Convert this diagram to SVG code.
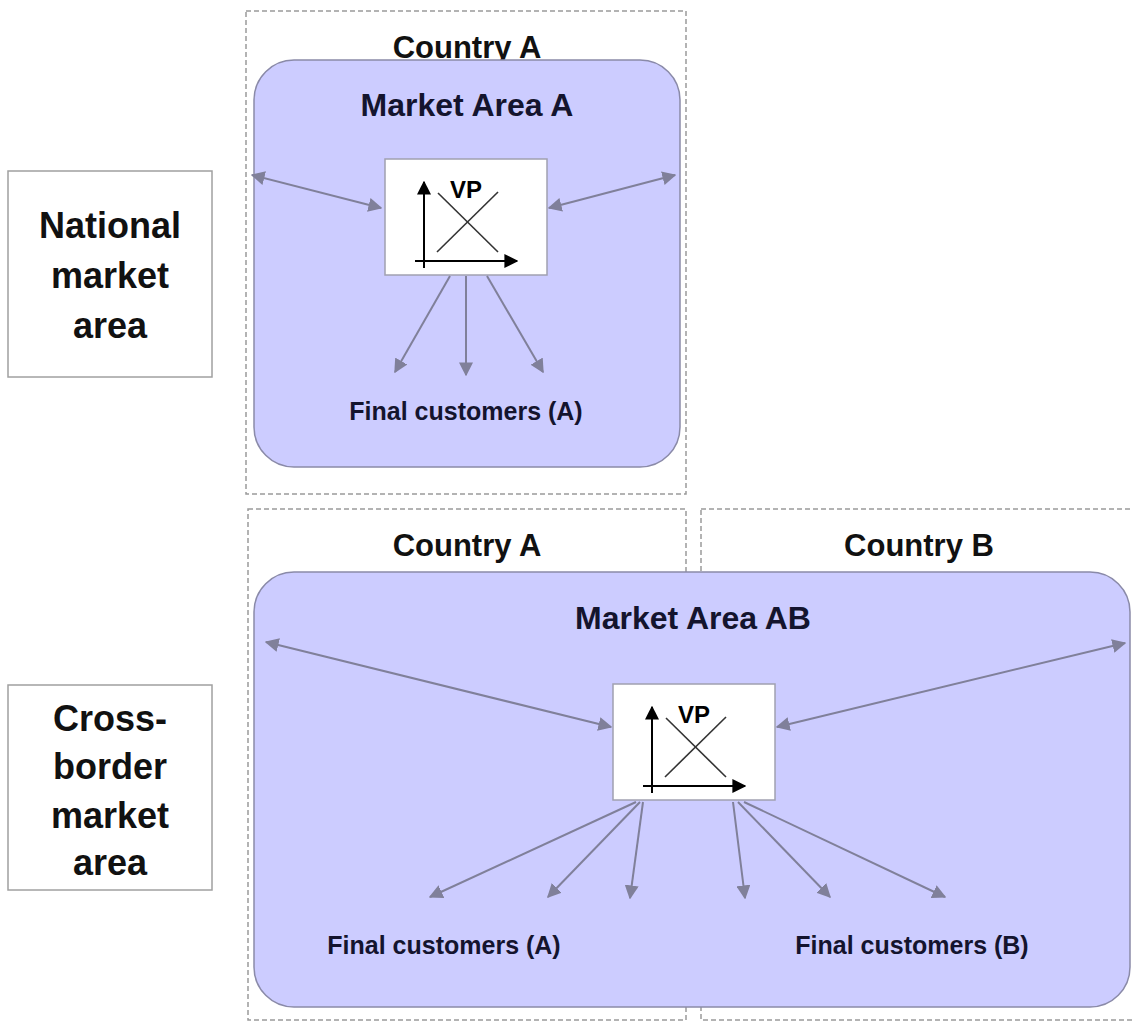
<svg xmlns="http://www.w3.org/2000/svg" width="1132" height="1021" viewBox="0 0 1132 1021">
<style>
.dash{fill:none;stroke:#9a9a9a;stroke-width:1.5;stroke-dasharray:5 3}
.area{fill:#ccccff;stroke:#8a8aa8;stroke-width:1.5}
.lbl{fill:#fff;stroke:#a0a0a0;stroke-width:1.5}
.vp{fill:#fff;stroke:#a0a0b0;stroke-width:1.5}
.t{font-family:"Liberation Sans",Arial,sans-serif;font-weight:bold;text-anchor:middle}
.big{font-size:36px;fill:#111}
.ctry{font-size:31px;fill:#111}
.ma{font-size:32px;fill:#14142e}
.fc{font-size:25px;fill:#14142e}
.conn{stroke:#80809a;stroke-width:2;fill:none}
.ax{stroke:#000;stroke-width:2;fill:none}
.xl{stroke:#333;stroke-width:1.6}
</style>
<defs>
<marker id="ah" viewBox="0 0 10 10" refX="9" refY="5" markerWidth="7" markerHeight="7" orient="auto-start-reverse" markerUnits="strokeWidth">
<path d="M0,0 L10,5 L0,10 z" fill="#80809a"/>
</marker>
<marker id="bk" viewBox="0 0 10 10" refX="9" refY="5" markerWidth="7" markerHeight="7" orient="auto-start-reverse" markerUnits="strokeWidth">
<path d="M0,0 L10,5 L0,10 z" fill="#000"/>
</marker>
<g id="vpchart">
<rect class="vp" x="385" y="159" width="162" height="116"/>
<line class="ax" x1="424" y1="268" x2="424" y2="182" marker-end="url(#bk)"/>
<line class="ax" x1="415" y1="261" x2="517" y2="261" marker-end="url(#bk)"/>
<line class="xl" x1="438" y1="193" x2="498" y2="252"/>
<line class="xl" x1="437" y1="252" x2="498" y2="192"/>
<text class="t" x="466" y="198" font-size="24" fill="#000">VP</text>
</g>
</defs>

<g id="label-national">
<rect class="lbl" x="8" y="171" width="204" height="206"/>
<text class="t big" x="110" y="238">National</text>
<text class="t big" x="110" y="288">market</text>
<text class="t big" x="110" y="338">area</text>
</g>

<g id="label-crossborder">
<rect class="lbl" x="8" y="685" width="204" height="205"/>
<text class="t big" x="110" y="731">Cross-</text>
<text class="t big" x="110" y="779">border</text>
<text class="t big" x="110" y="828">market</text>
<text class="t big" x="110" y="875">area</text>
</g>

<g id="country-a-top">
<rect class="dash" x="246" y="11" width="440" height="483"/>
<text class="t ctry" x="467" y="58">Country A</text>
</g>

<g id="market-area-a">
<rect class="area" x="254" y="60" width="426" height="407" rx="40" ry="40"/>
<text class="t ma" x="467" y="116">Market Area A</text>
<text class="t fc" x="466" y="420">Final customers (A)</text>
</g>

<g id="vp-a">
<use href="#vpchart"/>
</g>

<g id="country-a-bottom">
<rect class="dash" x="248" y="509" width="438" height="511"/>
<text class="t ctry" x="467" y="556">Country A</text>
</g>

<g id="country-b">
<rect class="dash" x="701" y="509" width="440" height="511"/>
<text class="t ctry" x="919" y="556">Country B</text>
</g>

<g id="market-area-ab">
<rect class="area" x="254" y="572" width="876" height="435" rx="40" ry="40"/>
<text class="t ma" x="693" y="629">Market Area AB</text>
<text class="t fc" x="444" y="954">Final customers (A)</text>
<text class="t fc" x="912" y="954">Final customers (B)</text>
</g>

<g id="vp-ab">
<use href="#vpchart" transform="translate(228,525)"/>
</g>

<g id="connectors">
<line class="conn" x1="252" y1="175" x2="381" y2="208" marker-start="url(#ah)" marker-end="url(#ah)"/>
<line class="conn" x1="549" y1="208" x2="675" y2="175" marker-start="url(#ah)" marker-end="url(#ah)"/>
<line class="conn" x1="450" y1="276" x2="395" y2="372" marker-end="url(#ah)"/>
<line class="conn" x1="466" y1="276" x2="466" y2="375" marker-end="url(#ah)"/>
<line class="conn" x1="487" y1="276" x2="543" y2="372" marker-end="url(#ah)"/>

<line class="conn" x1="266" y1="642" x2="611" y2="727" marker-start="url(#ah)" marker-end="url(#ah)"/>
<line class="conn" x1="777" y1="727" x2="1125" y2="643" marker-start="url(#ah)" marker-end="url(#ah)"/>
<line class="conn" x1="636" y1="802" x2="430" y2="897" marker-end="url(#ah)"/>
<line class="conn" x1="640" y1="802" x2="548" y2="897" marker-end="url(#ah)"/>
<line class="conn" x1="643" y1="802" x2="630" y2="898" marker-end="url(#ah)"/>
<line class="conn" x1="733" y1="802" x2="745" y2="898" marker-end="url(#ah)"/>
<line class="conn" x1="738" y1="802" x2="830" y2="897" marker-end="url(#ah)"/>
<line class="conn" x1="744" y1="802" x2="945" y2="897" marker-end="url(#ah)"/>
</g>
</svg>
